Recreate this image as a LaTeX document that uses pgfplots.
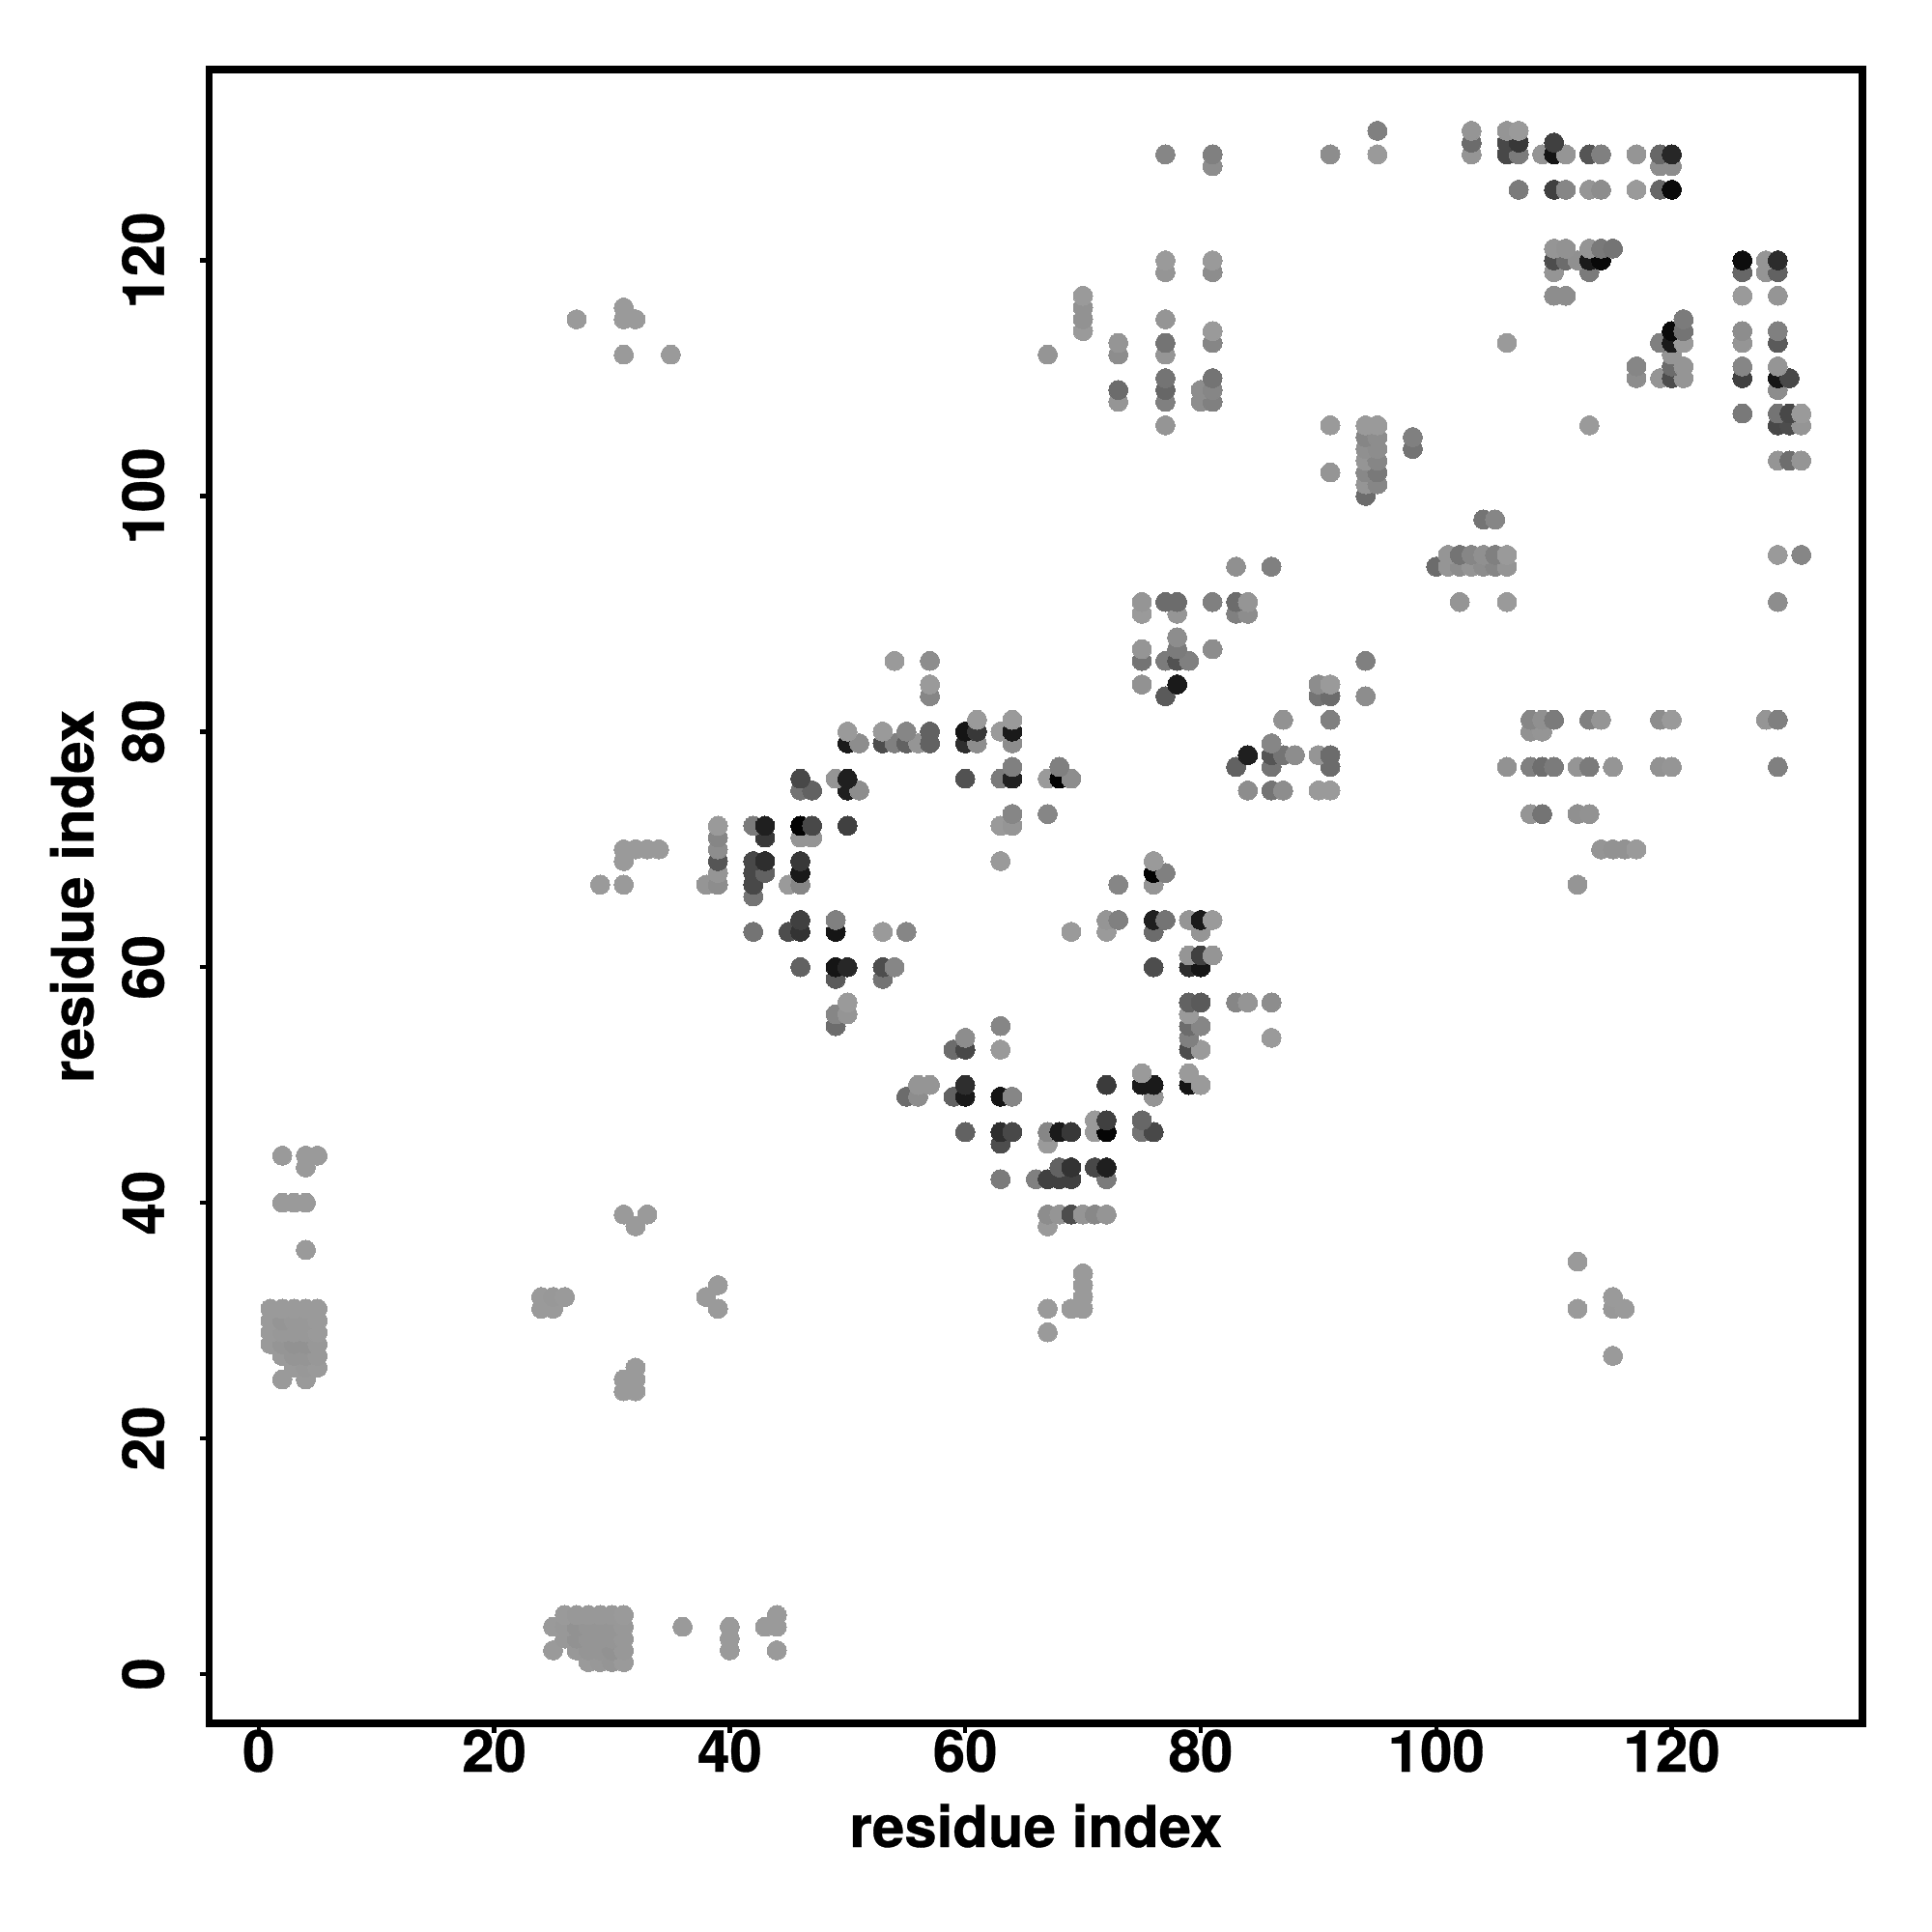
\documentclass[border=0pt]{standalone}
\usepackage{fontspec}
\setmainfont[BoldFeatures={FakeBold=0.6}]{TeX Gyre Heros}
\usepackage{pgfplots}
\pgfplotsset{compat=1.18}

\begin{document}
\begin{tikzpicture}
% page is 2000x2000 px at 0.2pt per px
\useasboundingbox (-43.32pt,-43.2pt) rectangle (356.68pt,356.8pt);
\begin{axis}[
    at={(0pt,0pt)},
    anchor=south west,
    scale only axis,
    width=342.3pt,
    height=342.4pt,
    xmin=-4.2, xmax=136.2,
    ymin=-4.2, ymax=136.2,
    axis line style={line width=1.5pt},
    xtick={0,20,...,120},
    ytick={0,20,...,120},
    xtick pos=bottom,
    ytick pos=left,
    tick align=outside,
    major tick length=2pt,
    tick style={black, line width=0.9pt},
    /pgf/number format/assume math mode=true,
    font=\fontsize{12}{14}\selectfont\bfseries,
    tick label style={font=\fontsize{12}{14}\selectfont\bfseries, inner sep=0pt},
    xticklabel style={anchor=base, yshift=-8pt},
    yticklabel style={rotate=90, anchor=base, yshift=7.4pt},
    every axis x label/.style={at={(axis description cs:0.5,0)}, anchor=base, yshift=-25.6pt},
    every axis y label/.style={at={(axis description cs:0,0.5)}, xshift=-24pt, rotate=90, anchor=base},
    xlabel={residue index},
    ylabel={residue index},
    colormap={grays}{gray(0cm)=(0); gray(1cm)=(1)},
    point meta min=0, point meta max=1,
    scatter/use mapped color={draw=mapped color, fill=mapped color},
]
\addplot[scatter, only marks, mark=*, mark size=1.98pt, mark options={line width=0pt}, point meta=explicit] coordinates {
(28,1)[.6] (29,1)[.59] (30,1)[.58] (31,1)[.6]
(25,2)[.6] (27,2)[.59] (28,2)[.58] (29,2)[.58] (30,2)[.57] (31,2)[.59] (40,2)[.6] (44,2)[.6]
(26,3)[.59] (27,3)[.57] (28,3)[.58] (29,3)[.58] (30,3)[.58] (31,3)[.59] (40,3)[.6]
(25,4)[.6] (26,4)[.59] (27,4)[.57] (28,4)[.58] (29,4)[.58] (30,4)[.58] (31,4)[.59] (36,4)[.6] (40,4)[.6] (43,4)[.6] (44,4)[.6]
(26,5)[.6] (27,5)[.59] (28,5)[.59] (29,5)[.59] (30,5)[.59] (31,5)[.6] (44,5)[.6]
(31,24)[.6] (32,24)[.6]
(2,25)[.6] (4,25)[.6] (31,25)[.6] (32,25)[.6]
(3,26)[.6] (4,26)[.59] (5,26)[.6] (32,26)[.6]
(2,27)[.6] (3,27)[.58] (4,27)[.58] (5,27)[.59] (115,27)[.6]
(1,28)[.6] (2,28)[.58] (3,28)[.57] (4,28)[.57] (5,28)[.59]
(1,29)[.6] (2,29)[.59] (3,29)[.59] (4,29)[.59] (5,29)[.6] (67,29)[.6]
(1,30)[.6] (2,30)[.58] (3,30)[.59] (4,30)[.59] (5,30)[.6]
(1,31)[.6] (2,31)[.6] (3,31)[.6] (4,31)[.6] (5,31)[.6] (24,31)[.6] (25,31)[.6] (39,31)[.6] (67,31)[.6] (69,31)[.6] (70,31)[.6] (112,31)[.6] (115,31)[.59] (116,31)[.6]
(24,32)[.6] (25,32)[.59] (26,32)[.6] (38,32)[.6] (70,32)[.6] (115,32)[.6]
(39,33)[.6] (70,33)[.6]
(70,34)[.6]
(112,35)[.6]
(4,36)[.6]
(32,38)[.6] (67,38)[.6]
(31,39)[.6] (33,39)[.6] (67,39)[.55] (68,39)[.58] (69,39)[.3] (70,39)[.58] (71,39)[.53] (72,39)[.58]
(2,40)[.6] (3,40)[.6] (4,40)[.6]
(63,42)[.48] (66,42)[.5] (67,42)[.25] (68,42)[.25] (69,42)[.25] (72,42)[.48]
(4,43)[.6] (68,43)[.38] (69,43)[.2] (71,43)[.28] (72,43)[.12]
(2,44)[.6] (4,44)[.6] (5,44)[.6]
(63,45)[.3] (67,45)[.6]
(60,46)[.38] (63,46)[.18] (64,46)[.28] (67,46)[.52] (68,46)[.1] (69,46)[.22] (71,46)[.6] (72,46)[.02] (75,46)[.45] (76,46)[.28]
(71,47)[.6] (72,47)[.25] (75,47)[.4]
(55,49)[.42] (56,49)[.55] (59,49)[.38] (60,49)[.1] (63,49)[.08] (64,49)[.52] (76,49)[.58]
(56,50)[.58] (57,50)[.58] (60,50)[.18] (72,50)[.23] (75,50)[.1] (76,50)[.1] (79,50)[.08] (80,50)[.6]
(75,51)[.6] (79,51)[.6]
(59,53)[.42] (60,53)[.28] (63,53)[.6] (79,53)[.3] (80,53)[.6]
(60,54)[.55] (79,54)[.5] (86,54)[.6]
(49,55)[.42] (63,55)[.52] (79,55)[.42] (80,55)[.52]
(49,56)[.52] (50,56)[.58] (79,56)[.6]
(50,57)[.6] (79,57)[.38] (80,57)[.35] (83,57)[.52] (84,57)[.58] (86,57)[.55]
(49,59)[.35] (53,59)[.45]
(46,60)[.38] (49,60)[.08] (50,60)[.15] (53,60)[.3] (54,60)[.52] (76,60)[.3] (79,60)[.18] (80,60)[.08]
(79,61)[.58] (80,61)[.25] (81,61)[.58]
(42,63)[.45] (45,63)[.3] (46,63)[.2] (49,63)[.08] (53,63)[.6] (55,63)[.52] (69,63)[.6] (72,63)[.6] (76,63)[.42] (80,63)[.58]
(46,64)[.25] (49,64)[.5] (72,64)[.58] (73,64)[.5] (76,64)[.12] (77,64)[.45] (79,64)[.58] (80,64)[.1] (81,64)[.6]
(42,66)[.45]
(29,67)[.6] (31,67)[.6] (38,67)[.58] (39,67)[.55] (42,67)[.28] (45,67)[.6] (46,67)[.52] (73,67)[.52] (76,67)[.58] (112,67)[.58]
(39,68)[.58] (42,68)[.28] (43,68)[.38] (46,68)[.1] (76,68)[.01] (77,68)[.5]
(31,69)[.6] (39,69)[.33] (42,69)[.28] (43,69)[.18] (46,69)[.22] (63,69)[.6] (76,69)[.6]
(31,70)[.6] (32,70)[.6] (33,70)[.6] (34,70)[.6] (39,70)[.55] (114,70)[.58] (115,70)[.57] (116,70)[.57] (117,70)[.6]
(39,71)[.52] (43,71)[.22] (46,71)[.58] (47,71)[.58]
(39,72)[.6] (42,72)[.48] (43,72)[.12] (46,72)[.01] (47,72)[.28] (50,72)[.25] (63,72)[.6] (64,72)[.58]
(64,73)[.52] (67,73)[.52] (108,73)[.58] (109,73)[.45] (112,73)[.56] (113,73)[.57]
(46,75)[.45] (47,75)[.38] (50,75)[.12] (51,75)[.55] (84,75)[.55] (86,75)[.45] (87,75)[.55] (90,75)[.6] (91,75)[.6]
(46,76)[.28] (49,76)[.58] (50,76)[.12] (60,76)[.32] (63,76)[.48] (64,76)[.13] (67,76)[.6] (68,76)[.01] (69,76)[.55]
(64,77)[.5] (68,77)[.5] (83,77)[.38] (86,77)[.45] (91,77)[.42] (106,77)[.57] (108,77)[.5] (109,77)[.43] (110,77)[.48] (112,77)[.58] (113,77)[.48] (115,77)[.58] (119,77)[.57] (120,77)[.58] (129,77)[.5]
(84,78)[.12] (86,78)[.33] (87,78)[.45] (88,78)[.55] (90,78)[.58] (91,78)[.42]
(50,79)[.1] (51,79)[.55] (53,79)[.3] (54,79)[.5] (55,79)[.38] (56,79)[.58] (57,79)[.38] (60,79)[.18] (61,79)[.55] (64,79)[.55] (86,79)[.52]
(50,80)[.6] (53,80)[.6] (55,80)[.52] (57,80)[.38] (60,80)[.08] (61,80)[.22] (63,80)[.6] (64,80)[.1] (108,80)[.57] (109,80)[.58]
(61,81)[.6] (64,81)[.6] (87,81)[.57] (91,81)[.5] (108,81)[.52] (109,81)[.56] (110,81)[.48] (113,81)[.5] (114,81)[.58] (119,81)[.55] (120,81)[.6] (128,81)[.58] (129,81)[.5]
(57,83)[.52] (77,83)[.35] (90,83)[.45] (91,83)[.42] (94,83)[.55]
(57,84)[.6] (75,84)[.57] (78,84)[.1] (90,84)[.55] (91,84)[.6]
(54,86)[.6] (57,86)[.55] (75,86)[.45] (77,86)[.48] (78,86)[.32] (79,86)[.5] (94,86)[.5]
(75,87)[.58] (78,87)[.48] (81,87)[.55]
(78,88)[.55]
(75,90)[.6] (78,90)[.58] (83,90)[.5] (84,90)[.55]
(75,91)[.58] (77,91)[.42] (78,91)[.42] (81,91)[.5] (83,91)[.42] (84,91)[.58] (102,91)[.58] (106,91)[.6] (129,91)[.55]
(83,94)[.56] (86,94)[.5] (100,94)[.42] (101,94)[.58] (102,94)[.55] (103,94)[.58] (104,94)[.55] (105,94)[.52] (106,94)[.58]
(101,95)[.58] (102,95)[.45] (103,95)[.52] (104,95)[.56] (105,95)[.5] (106,95)[.6] (129,95)[.6] (131,95)[.52]
(104,98)[.45] (105,98)[.52]
(94,100)[.42]
(94,101)[.58] (95,101)[.52]
(91,102)[.58] (94,102)[.53] (95,102)[.47]
(94,103)[.58] (95,103)[.52] (129,103)[.58] (130,103)[.43] (131,103)[.58]
(94,104)[.56] (95,104)[.55] (98,104)[.45]
(94,105)[.52] (95,105)[.55] (98,105)[.5]
(77,106)[.58] (91,106)[.6] (94,106)[.6] (95,106)[.6] (113,106)[.6] (129,106)[.28] (130,106)[.3] (131,106)[.58]
(126,107)[.47] (129,107)[.45] (130,107)[.28] (131,107)[.6]
(73,108)[.58] (77,108)[.5] (80,108)[.55] (81,108)[.5]
(73,109)[.42] (77,109)[.4] (80,109)[.55] (81,109)[.52] (129,109)[.55]
(77,110)[.45] (81,110)[.45] (117,110)[.55] (119,110)[.58] (120,110)[.3] (121,110)[.58] (126,110)[.25] (129,110)[.08] (130,110)[.28]
(117,111)[.52] (120,111)[.42] (121,111)[.58] (126,111)[.52] (129,111)[.58]
(31,112)[.6] (35,112)[.6] (67,112)[.58] (73,112)[.55] (77,112)[.58] (120,112)[.58]
(73,113)[.58] (77,113)[.45] (81,113)[.52] (106,113)[.6] (119,113)[.5] (120,113)[.1] (121,113)[.6] (126,113)[.58] (129,113)[.35]
(70,114)[.6] (81,114)[.6] (120,114)[.04] (121,114)[.45] (126,114)[.55] (129,114)[.5]
(27,115)[.6] (31,115)[.6] (32,115)[.6] (70,115)[.57] (77,115)[.58] (121,115)[.48]
(31,116)[.6] (70,116)[.57]
(70,117)[.6] (110,117)[.55] (111,117)[.55] (126,117)[.6] (129,117)[.58]
(77,119)[.58] (81,119)[.55] (110,119)[.58] (113,119)[.48] (126,119)[.4] (128,119)[.58] (129,119)[.38]
(77,120)[.6] (81,120)[.6] (110,120)[.3] (111,120)[.42] (112,120)[.56] (113,120)[.1] (114,120)[.03] (126,120)[.05] (128,120)[.58] (129,120)[.17]
(110,121)[.58] (111,121)[.57] (113,121)[.58] (114,121)[.47] (115,121)[.45]
(107,126)[.48] (110,126)[.25] (111,126)[.52] (113,126)[.58] (114,126)[.55] (117,126)[.6] (119,126)[.4] (120,126)[.04]
(81,128)[.55] (119,128)[.55] (120,128)[.55]
(77,129)[.52] (81,129)[.5] (91,129)[.55] (95,129)[.6] (103,129)[.58] (106,129)[.28] (107,129)[.48] (109,129)[.58] (110,129)[.08] (111,129)[.58] (113,129)[.33] (114,129)[.5] (117,129)[.58] (119,129)[.4] (120,129)[.15]
(103,130)[.42] (106,130)[.28] (107,130)[.22] (110,130)[.25]
(95,131)[.5] (103,131)[.58] (106,131)[.58] (107,131)[.6]
};
\end{axis}
\end{tikzpicture}
\end{document}
